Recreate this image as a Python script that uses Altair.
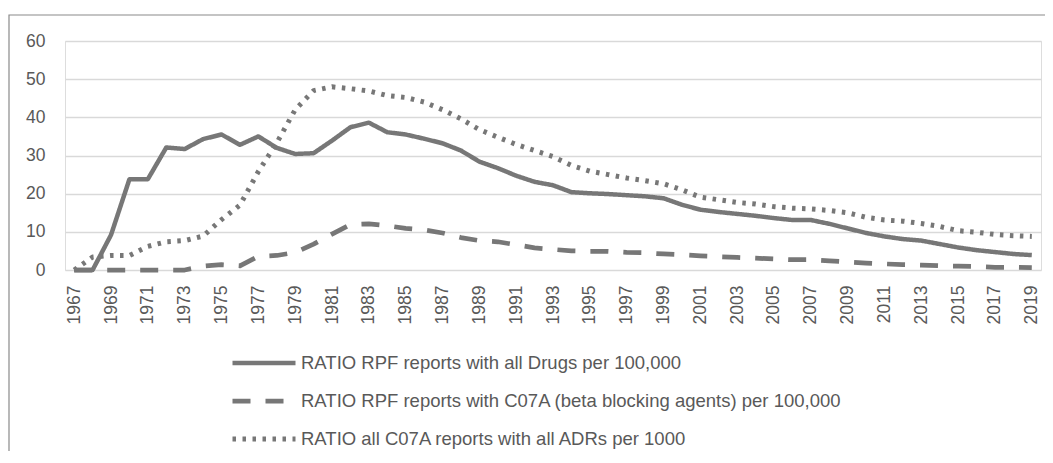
import altair as alt
import pandas as pd

years = list(range(1967, 2020))

series_names = [
    "RATIO RPF reports with all Drugs per 100,000",
    "RATIO RPF reports with C07A (beta blocking agents) per 100,000",
    "RATIO all C07A reports with all ADRs per 1000",
]

all_drugs = [0, 0, 9.2, 23.8, 23.8, 32.1, 31.7, 34.3, 35.5, 32.8, 35.0, 32.0, 30.4, 30.6,
             33.9, 37.4, 38.6, 36.1, 35.5, 34.4, 33.2, 31.3, 28.4, 26.7, 24.7, 23.1, 22.2,
             20.4, 20.1, 19.9, 19.6, 19.3, 18.8, 17.1, 15.8, 15.2, 14.7, 14.2, 13.6, 13.1,
             13.1, 12.1, 10.9, 9.7, 8.8, 8.1, 7.7, 6.8, 5.9, 5.2, 4.7, 4.2, 3.9]

c07a = [0, 0, 0, 0, 0, 0, 0, 1.0, 1.4, 1.1, 3.6, 3.8, 4.6, 6.8, 9.4, 11.9, 12.1, 11.6,
        10.9, 10.5, 9.7, 8.5, 7.7, 7.4, 6.6, 5.8, 5.4, 5.0, 4.9, 4.9, 4.6, 4.5, 4.2, 4.0,
        3.7, 3.5, 3.3, 3.1, 2.9, 2.7, 2.7, 2.4, 2.1, 1.8, 1.6, 1.4, 1.3, 1.1, 1.0, 0.9,
        0.7, 0.7, 0.6]

c07a_adrs = [0, 3.4, 3.8, 3.8, 6.2, 7.4, 7.7, 8.9, 13.2, 17.0, 25.8, 33.3, 42.0, 47.0,
             48.0, 47.5, 46.9, 45.7, 45.2, 44.0, 42.0, 39.6, 36.8, 34.8, 32.9, 31.3, 29.7,
             27.4, 25.9, 25.0, 24.1, 23.4, 22.6, 21.0, 19.1, 18.4, 17.7, 17.3, 16.6, 16.2,
             16.0, 15.6, 15.0, 13.8, 13.1, 12.8, 12.2, 11.4, 10.3, 9.9, 9.3, 9.0, 8.8]

y_ticks = [0, 10, 20, 30, 40, 50, 60]
x_ticks = list(range(1967, 2020, 2))

rows = []
for name, vals in zip(series_names, [all_drugs, c07a, c07a_adrs]):
    for yr, v in zip(years, vals):
        rows.append({"year": yr, "value": v, "series": name})
df = pd.DataFrame(rows)

GRAY = "#777777"
TEXT = "#595959"
FONT = "Liberation Sans"


def make_legend():
    return alt.Legend(title=None, orient="none", direction="vertical",
                      legendX=186, legendY=309,
                      labelFontSize=18.5, labelColor=TEXT, labelFont=FONT,
                      symbolType="M-3,0H3", symbolSize=441,
                      rowPadding=15, labelOffset=24, padding=0,
                      labelLimit=800)


lines = alt.Chart(df).mark_line(strokeJoin="round").encode(
    x=alt.X("year:Q",
            scale=alt.Scale(domain=[1966.5, 2019.5], nice=False, zero=False),
            axis=alt.Axis(values=x_ticks, format="d", labelAngle=-90, grid=False,
                          domain=False, ticks=False, labelPadding=15,
                          labelFontSize=17.5, labelColor=TEXT, labelFont=FONT,
                          title=None, labelOverlap=False)),
    y=alt.Y("value:Q",
            scale=alt.Scale(domain=[0, 60], nice=False),
            axis=alt.Axis(values=y_ticks, grid=True, gridColor="#d9d9d9", gridWidth=1.3,
                          domain=False, ticks=False, labelPadding=20,
                          labelFontSize=17.5, labelColor=TEXT, labelFont=FONT,
                          title=None)),
    color=alt.Color("series:N",
                    scale=alt.Scale(domain=series_names, range=[GRAY, GRAY, GRAY]),
                    sort=series_names, legend=make_legend()),
    strokeDash=alt.StrokeDash("series:N",
                              scale=alt.Scale(domain=series_names,
                                              range=[[1, 0], [18, 15], [3.5, 6.5]]),
                              sort=series_names, legend=make_legend()),
    strokeWidth=alt.StrokeWidth("series:N",
                                scale=alt.Scale(domain=series_names, range=[4.5, 5, 3.6]),
                                sort=series_names, legend=make_legend()),
)

frame = alt.Chart(pd.DataFrame({"k": [0]})).mark_rect(
    fill="transparent", stroke="#8a8a8a", strokeWidth=1.2
).encode(
    x=alt.value(-56), x2=alt.value(1200), y=alt.value(-26), y2=alt.value(700)
)

chart = alt.layer(frame, lines).properties(
    width=976, height=229,
    autosize=alt.AutoSizeParams(type="none"),
    padding={"left": 57, "top": 33, "right": 4, "bottom": 181},
).configure_view(stroke=None).configure(font=FONT)

chart.save("out.html", embed_options={"renderer": "svg", "actions": False})
